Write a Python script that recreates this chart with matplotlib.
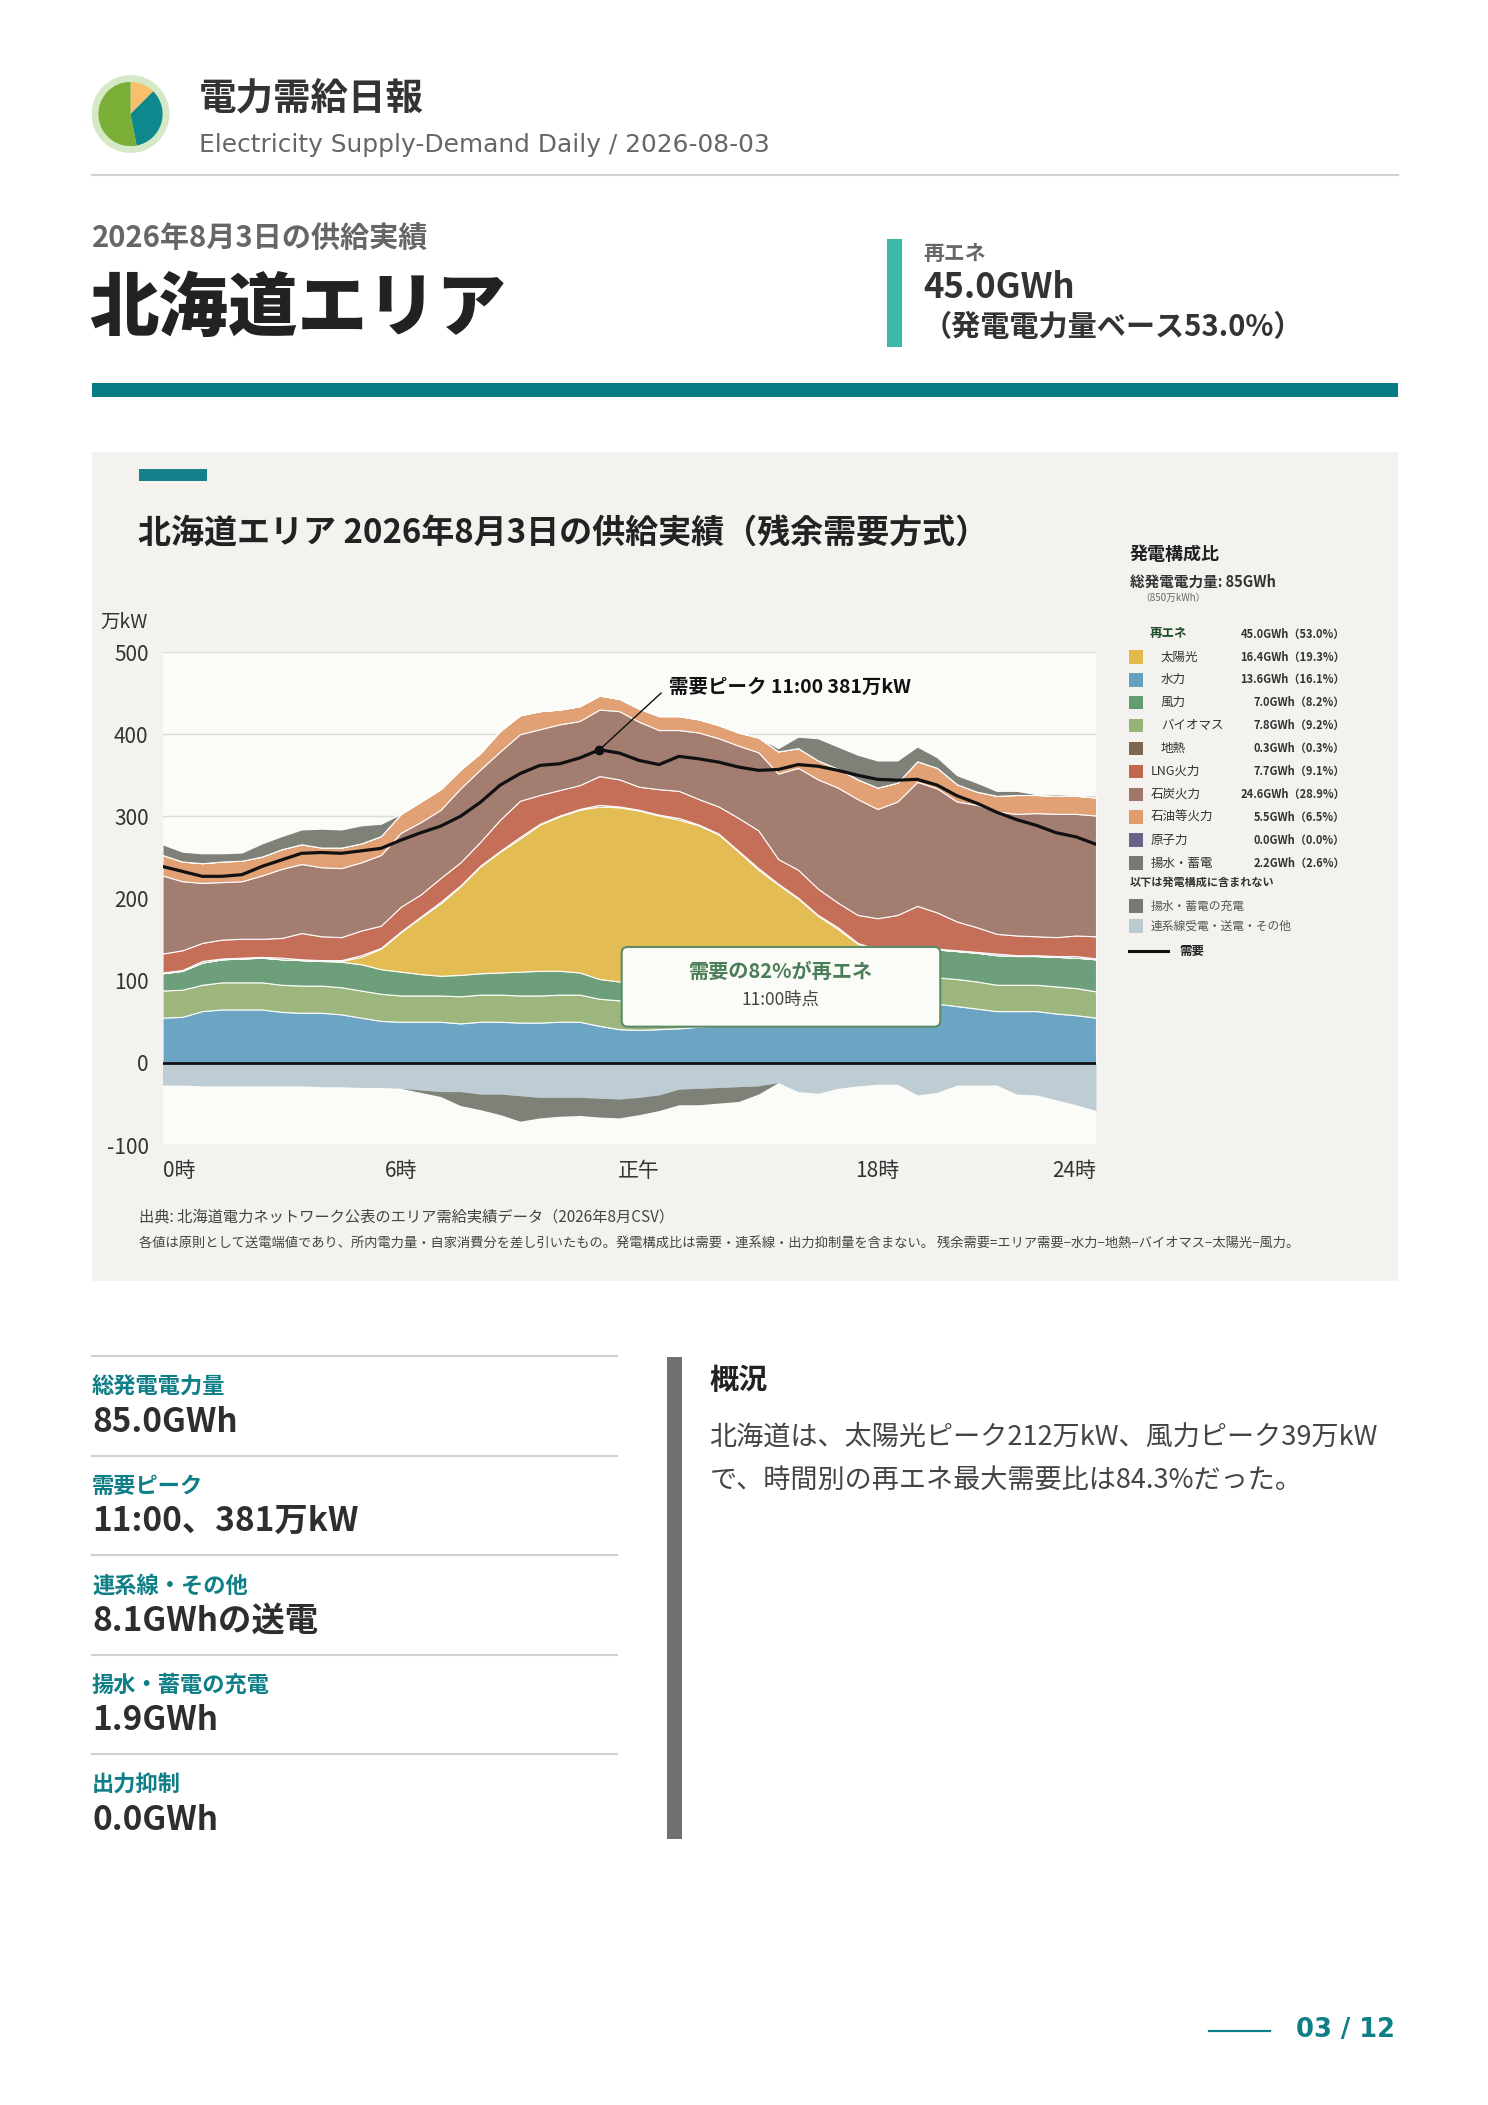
import numpy as np
import matplotlib.pyplot as plt
from matplotlib.patches import Rectangle, FancyBboxPatch

plt.rcParams['font.family'] = ['Noto Sans CJK JP', 'DejaVu Sans']
plt.rcParams['axes.unicode_minus'] = False

W, H = 1488, 2105

# 30分ごとの値（万kW）
hours = np.arange(48) * 0.5
hydro = [55, 56, 63, 65, 65, 65, 62, 61, 61, 59, 55, 51, 50, 50, 50, 48, 50, 50, 49, 49, 50, 50, 45,
         41, 40, 41, 42, 44, 46, 48, 50, 53, 56, 59, 62, 65, 68, 70, 71, 72, 69, 66, 63, 63, 63, 60, 58, 55]
biomass = [33, 33, 32, 33, 33, 33, 33, 33, 33, 33, 33, 33, 32, 32, 32, 33, 33, 33, 33, 33, 33, 33, 33,
           35, 33, 33, 33, 33, 33, 33, 33, 33, 33, 33, 33, 33, 33, 33, 33, 32, 33, 33, 32, 32, 32, 33, 33, 32]
wind = [21, 23, 27, 28, 29, 30, 31, 31, 30, 31, 32, 30, 29, 26, 24, 26, 26, 27, 29, 30, 29, 27, 24,
        23, 24, 24, 25, 25, 26, 27, 28, 29, 29, 30, 31, 32, 32, 33, 33, 34, 34, 35, 36, 35, 35, 36, 37, 39]
solar = [0, 0, 0, 0, 0, 0, 0, 0, 0, 1, 9, 25, 48, 69, 88, 108, 130, 147, 162, 178, 188, 198, 210,
         212, 210, 203, 196, 187, 173, 149, 124, 102, 82, 57, 37, 15, 4, 0, 0, 0, 0, 0, 0, 0, 0, 0, 0, 0]
geothermal = [1, 1, 2, 1, 1, 1, 2, 1, 1, 1, 2, 1, 1, 1, 2, 1, 1, 1, 2, 1, 1, 1, 2, 1,
              1, 1, 2, 1, 1, 1, 2, 1, 1, 1, 2, 1, 1, 1, 2, 1, 1, 1, 2, 1, 1, 1, 2, 1]
lng = [23, 24, 22, 23, 23, 22, 24, 32, 29, 28, 30, 27, 30, 27, 29, 28, 29, 38, 44, 35, 31, 29, 35,
       33, 28, 31, 33, 31, 33, 40, 46, 30, 34, 32, 30, 34, 38, 43, 52, 44, 35, 30, 24, 24, 23, 23, 25, 27]
coal = [95, 84, 73, 70, 70, 77, 84, 84, 84, 84, 83, 86, 90, 88, 83, 90, 88, 83, 81, 80, 80, 78, 81,
        83, 79, 72, 74, 81, 83, 88, 95, 104, 124, 133, 140, 141, 133, 138, 151, 151, 146, 149, 149, 148, 150, 150, 148, 147]
oil = [25, 24, 24, 25, 25, 23, 24, 24, 24, 25, 23, 23, 23, 25, 25, 23, 20, 25, 23, 22, 18, 18, 17,
       15, 16, 17, 17, 16, 16, 16, 18, 27, 24, 23, 23, 24, 26, 23, 25, 25, 21, 16, 19, 23, 22, 22, 22, 22]
nuclear = [0.0] * 48
pumped = [13, 12, 12, 10, 10, 16, 16, 18, 23, 22, 22, 15, 0, 0, 0, 0, 0, 0, 0, 0, 0, 0, 0, 0,
          0, 0, 0, 0, 0, 0, 0, 4, 14, 27, 27, 30, 33, 27, 18, 13, 11, 11, 6, 5, 1, 2, 1, 2]
tie = [-27, -27, -28, -28, -28, -28, -28, -28, -29, -29, -30, -30, -31, -33, -35, -35, -38, -38, -40, -42,
       -42, -42, -43, -44, -42, -39, -32, -31, -30, -29, -28, -24, -35, -37, -31, -28, -26, -26, -39, -36,
       -27, -27, -27, -38, -39, -45, -51, -58]
charge = [0, 0, 0, 0, 0, 0, 0, 0, 0, 0, 0, 0, 0, -3, -6, -17, -19, -25, -31, -25, -23, -22, -23, -23,
          -21, -19, -19, -20, -19, -18, -10, 0, 0, 0, 0, 0, 0, 0, 0, 0, 0, 0, 0, 0, 0, 0, 0, 0]
demand = [239, 233, 227, 227, 229, 239, 247, 255, 256, 255, 258, 261, 271, 280, 288, 300, 317, 338, 352, 362,
          364, 371, 381, 377, 368, 363, 373, 370, 366, 360, 356, 357, 363, 361, 356, 350, 345, 344, 345, 338,
          325, 316, 305, 296, 289, 280, 275, 266]

peak_hour, peak_value = 11.0, 381
x_ticks = [0, 6, 12, 18, 23.5]
x_labels = ['0時', '6時', '正午', '18時', '24時']

mix_labels = ['再エネ', '太陽光', '水力', '風力', 'バイオマス', '地熱', 'LNG火力', '石炭火力', '石油等火力', '原子力', '揚水・蓄電']
mix_values = ['45.0GWh（53.0%）', '16.4GWh（19.3%）', '13.6GWh（16.1%）', '7.0GWh（8.2%）', '7.8GWh（9.2%）',
              '0.3GWh（0.3%）', '7.7GWh（9.1%）', '24.6GWh（28.9%）', '5.5GWh（6.5%）', '0.0GWh（0.0%）', '2.2GWh（2.6%）']
extra_labels = ['揚水・蓄電の充電', '連系線受電・送電・その他']

kpi_labels = ['総発電電力量', '需要ピーク', '連系線・その他', '揚水・蓄電の充電', '出力抑制']
kpi_values = ['85.0GWh', '11:00、381万kW', '8.1GWhの送電', '1.9GWh', '0.0GWh']

logo_shares = [12.5, 34.5, 53.0]

c_solar = '#e2ba4b'
c_hydro = '#649fc0'
c_wind = '#659b73'
c_bio = '#97b377'
c_geo = '#7e6651'
c_lng = '#c2674f'
c_coal = '#9f766a'
c_oil = '#e09c6d'
c_nuc = '#6c6388'
c_pump = '#767a71'
c_tie = '#bbcad1'
teal = '#0f7f87'

fig = plt.figure(figsize=(W / 100, H / 100), dpi=100)
fig.patch.set_facecolor('white')


def px_text(x, y, s, **kw):
    kw.setdefault('va', 'center')
    return fig.text(x / W, 1 - y / H, s, **kw)


def px_rect(x0, y0, x1, y1, color, z=-5):
    fig.patches.append(Rectangle((x0 / W, 1 - y1 / H), (x1 - x0) / W, (y1 - y0) / H,
                                 transform=fig.transFigure, facecolor=color,
                                 edgecolor='none', zorder=z))


def px_hline(x0, x1, y, color, lw):
    fig.add_artist(plt.Line2D([x0 / W, x1 / W], [1 - y / H, 1 - y / H], color=color, lw=lw))


# ---- header ----
lax = fig.add_axes([91.5 / W, 1 - 153 / H, 78 / W, 78 / H])
lax.set_aspect('equal')
lax.axis('off')
lax.add_patch(plt.Circle((0, 0), 1.0, color='#d6e9c6'))
lax.pie(logo_shares, colors=['#f8c06a', '#0e878d', '#7aae36'], radius=0.84,
        startangle=90, counterclock=False, wedgeprops=dict(linewidth=0))
lax.set_xlim(-1.02, 1.02)
lax.set_ylim(-1.02, 1.02)

px_text(199, 98, '電力需給日報', fontsize=27, fontweight='bold', color='#333333')
px_text(199, 145, 'Electricity Supply-Demand Daily / 2026-08-03', fontsize=17.9,
        color='#666666', family='DejaVu Sans')
px_hline(91.5, 1398, 174.5, '#d2d2d2', 1.5)

px_text(91.5, 238, '2026年8月3日の供給実績', fontsize=21, fontweight='bold', color='#666666')
px_text(89.5, 309, '北海道エリア', fontsize=50, fontweight='heavy', color='#222222')

px_rect(887, 239, 902, 347, '#3cb8a6')
px_text(923, 254, '再エネ', fontsize=15, fontweight='bold', color='#666666')
px_text(923, 288, '45.0GWh', fontsize=25, fontweight='bold', color='#333333')
px_text(923, 327, '（発電電力量ベース53.0%）', fontsize=21, fontweight='bold', color='#333333')

px_rect(91.5, 383, 1398, 396.5, '#077b83')

# ---- chart panel ----
px_rect(91.5, 451.5, 1398, 1281, '#f3f2ee', z=-10)
px_rect(138.5, 469, 207, 481, '#16808a')
px_text(138.5, 533.5, '北海道エリア 2026年8月3日の供給実績（残余需要方式）', fontsize=23.8,
        fontweight='bold', color='#222222')
px_text(100.5, 622, '万kW', fontsize=14, color='#333333')

ax = fig.add_axes([162.5 / W, 1 - 1145 / H, (1096 - 162.5) / W, (1145 - 652) / H])
ax.set_facecolor('#fbfbf8')
ax.stackplot(hours, [hydro, biomass, wind, solar, geothermal, lng, coal, oil, nuclear, pumped],
             colors=[c_hydro, c_bio, c_wind, c_solar, c_geo, c_lng, c_coal, c_oil, c_nuc, c_pump],
             edgecolor=(1, 1, 1, 0.7), linewidth=0.8, alpha=0.95, zorder=2)
tie_arr = np.array(tie, dtype=float)
chg_arr = np.array(charge, dtype=float)
ax.fill_between(hours, 0, tie_arr, color=c_tie, lw=0, alpha=0.95, zorder=2)
ax.fill_between(hours, tie_arr, tie_arr + chg_arr, color=c_pump, lw=0, alpha=0.95, zorder=2)
ax.axhline(0, color='#111111', lw=2, zorder=4)
ax.plot(hours, demand, color='#111111', lw=2.3, zorder=5)

ax.set_xlim(0, 23.5)
ax.set_ylim(-100, 500)
ax.set_yticks(range(-100, 501, 100))
ax.set_xticks(x_ticks)
ax.set_xticklabels(x_labels)
for lbl, ha in zip(ax.get_xticklabels(), ['left', 'center', 'center', 'center', 'right']):
    lbl.set_ha(ha)
ax.tick_params(length=0, labelsize=15, colors='#333333')
ax.tick_params(axis='y', pad=10)
ax.tick_params(axis='x', pad=11)
ax.grid(axis='y', color='#dcdcd7', lw=1)
ax.set_axisbelow(True)
for s in ax.spines.values():
    s.set_visible(False)

# peak annotation
ax.plot([peak_hour], [peak_value], 'o', color='#111111', ms=6, zorder=6)
ax.plot([peak_hour, 12.55], [peak_value, 450], color='#111111', lw=1, zorder=6)
ax.text(12.75, 457, f'需要ピーク 11:00 {peak_value}万kW', fontsize=14, fontweight='bold',
        color='#111111', va='center', ha='left', zorder=7)

# renewable share box
bx0, bx1, by0, by1 = 11.56, 19.58, 44, 141
xpx = (1096 - 162.5) / 23.5
ypx = (1145 - 652) / 600
box = FancyBboxPatch((bx0, by0), bx1 - bx0, by1 - by0,
                     boxstyle='round,pad=0,rounding_size=0.15',
                     mutation_aspect=xpx / ypx, facecolor='#fbfbf7',
                     edgecolor='#5b8c66', lw=1.5, zorder=8)
ax.add_patch(box)
ax.text((bx0 + bx1) / 2, 111, '需要の82%が再エネ', fontsize=14.5, fontweight='bold',
        color='#4b7d58', ha='center', va='center', zorder=9)
ax.text((bx0 + bx1) / 2, 77, '11:00時点', fontsize=12.5, color='#444444',
        ha='center', va='center', zorder=9)

# ---- legend ----
px_text(1130, 554, '発電構成比', fontsize=13, fontweight='bold', color='#222222')
px_text(1130, 582, '総発電電力量: 85GWh', fontsize=10.5, fontweight='bold', color='#333333')
px_text(1140, 598, '（850万kWh）', fontsize=7, color='#666666')

sw_colors = [None, c_solar, c_hydro, c_wind, c_bio, c_geo, c_lng, c_coal, c_oil, c_nuc, c_pump]
for i, (lab, val, col) in enumerate(zip(mix_labels, mix_values, sw_colors)):
    y = 634 + i * 22.9
    if col is None:
        px_text(1150, y, lab, fontsize=9, fontweight='bold', color='#1f4a2a')
    else:
        px_rect(1129, y - 6.7, 1142.5, y + 6.7, col, z=1)
        lx = 1161 if 1 <= i <= 5 else 1151
        px_text(lx, y, lab, fontsize=9, color='#333333')
    px_text(1345, y, val, fontsize=8, fontweight='bold', color='#333333', ha='right')

px_text(1130, 882, '以下は発電構成に含まれない', fontsize=8, fontweight='bold', color='#333333')
for i, (lab, col) in enumerate(zip(extra_labels, [c_pump, c_tie])):
    y = 906 + i * 20
    px_rect(1129, y - 6.7, 1142.5, y + 6.7, col, z=1)
    px_text(1151, y, lab, fontsize=8.5, color='#555555')
px_hline(1129, 1168, 951, '#111111', 2.2)
px_text(1179, 951, '需要', fontsize=9, fontweight='bold', color='#222222')

# ---- source notes ----
px_text(139, 1217, '出典: 北海道電力ネットワーク公表のエリア需給実績データ（2026年8月CSV）',
        fontsize=11, color='#444444')
px_text(139, 1243, '各値は原則として送電端値であり、所内電力量・自家消費分を差し引いたもの。'
        '発電構成比は需要・連系線・出力抑制量を含まない。 残余需要=エリア需要−水力−地熱−バイオマス−太陽光−風力。',
        fontsize=9.5, color='#444444')

# ---- KPI column ----
for i, (lab, val) in enumerate(zip(kpi_labels, kpi_values)):
    y = 1356 + i * 99.5
    px_hline(92, 617, y, '#d0d0d0', 1.5)
    px_text(92, y + 31, lab, fontsize=16, fontweight='bold', color=teal)
    px_text(92, y + 66, val, fontsize=24, fontweight='bold', color='#2e2e2e')

# ---- summary ----
px_rect(667, 1357, 681.5, 1838.5, '#707073')
px_text(709.5, 1380, '概況', fontsize=21, fontweight='bold', color='#222222')
px_text(709.5, 1437, '北海道は、太陽光ピーク212万kW、風力ピーク39万kW', fontsize=19.5, color='#444444')
px_text(709.5, 1481, 'で、時間別の再エネ最大需要比は84.3%だった。', fontsize=19.5, color='#444444')

# ---- page number ----
px_hline(1209, 1270, 2031, teal, 1.6)
px_text(1395, 2030, '03 / 12', fontsize=18.5, fontweight='bold', color=teal, ha='right',
        family='DejaVu Sans')

fig.savefig('out.png', dpi=100, facecolor='white')
